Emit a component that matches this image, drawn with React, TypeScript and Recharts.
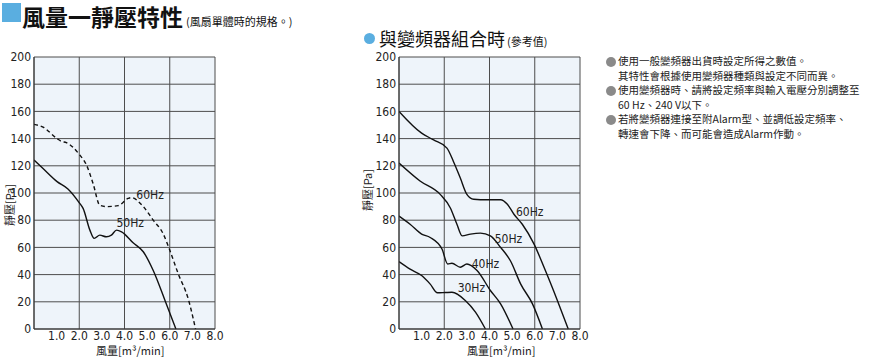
import React from "react";
import {
  LineChart,
  Line,
  XAxis,
  YAxis,
  CartesianGrid,
  ReferenceDot,
} from "recharts";

// fan only (left chart)
const fan60 = [
  { q: 0, p: 150.5 }, { q: 0.4, p: 148.4 }, { q: 1.02, p: 140 }, { q: 1.21, p: 138 },
  { q: 1.43, p: 137 }, { q: 2.02, p: 128 }, { q: 2.32, p: 120.6 }, { q: 2.61, p: 107 },
  { q: 2.91, p: 91 }, { q: 3.2, p: 90 }, { q: 3.72, p: 90.7 }, { q: 4.16, p: 96 },
  { q: 4.3, p: 96.6 }, { q: 4.83, p: 90 }, { q: 5.27, p: 80 }, { q: 5.71, p: 70 },
  { q: 6.0, p: 58 }, { q: 6.37, p: 40.8 }, { q: 6.82, p: 22 }, { q: 7.14, p: 0 },
];
const fan50 = [
  { q: 0, p: 124.3 }, { q: 0.4, p: 118 }, { q: 1.02, p: 108.4 }, { q: 1.5, p: 103 },
  { q: 2.02, p: 92.4 }, { q: 2.17, p: 88.7 }, { q: 2.47, p: 72.7 }, { q: 2.66, p: 66.6 },
  { q: 2.91, p: 69 }, { q: 3.2, p: 67.8 }, { q: 3.42, p: 69 }, { q: 3.65, p: 72.7 },
  { q: 3.87, p: 71.5 }, { q: 4.38, p: 63.4 }, { q: 4.83, p: 56.8 }, { q: 5.27, p: 43 },
  { q: 5.79, p: 21 }, { q: 6.27, p: 0 },
];

// with inverter (right chart)
const inv60 = [
  { q: 0, p: 160 }, { q: 1.0, p: 144 }, { q: 1.53, p: 139 }, { q: 2.12, p: 133 },
  { q: 2.41, p: 123 }, { q: 2.71, p: 111 }, { q: 3.0, p: 99 }, { q: 3.3, p: 95.4 },
  { q: 3.9, p: 95 }, { q: 4.49, p: 95 }, { q: 4.79, p: 91.7 }, { q: 5.08, p: 84.4 },
  { q: 5.45, p: 77 }, { q: 5.97, p: 62.4 }, { q: 6.41, p: 45.4 }, { q: 7.0, p: 21 },
  { q: 7.48, p: 0 },
];
const inv50 = [
  { q: 0, p: 122 }, { q: 0.93, p: 108.8 }, { q: 1.82, p: 99 }, { q: 2.27, p: 89 },
  { q: 2.56, p: 77 }, { q: 2.79, p: 68.5 }, { q: 3.16, p: 69.8 }, { q: 3.6, p: 70.5 },
  { q: 4.04, p: 68.5 }, { q: 4.49, p: 60 }, { q: 4.93, p: 50 }, { q: 5.38, p: 33 },
  { q: 5.9, p: 18.5 }, { q: 6.34, p: 0 },
];
const inv40 = [
  { q: 0, p: 83 }, { q: 0.49, p: 77 }, { q: 1.0, p: 69.8 }, { q: 1.38, p: 67.3 },
  { q: 1.9, p: 58.8 }, { q: 2.15, p: 47.8 }, { q: 2.34, p: 48.3 }, { q: 2.71, p: 45.4 },
  { q: 3.0, p: 47.8 }, { q: 3.45, p: 43 }, { q: 4.04, p: 28.3 }, { q: 4.49, p: 18.5 },
  { q: 5.04, p: 0 },
];
const inv30 = [
  { q: 0, p: 49.5 }, { q: 0.49, p: 44 }, { q: 1.0, p: 39.3 }, { q: 1.38, p: 33 },
  { q: 1.7, p: 26.6 }, { q: 2.04, p: 26.8 }, { q: 2.34, p: 27 }, { q: 2.93, p: 21 },
  { q: 3.38, p: 12.4 }, { q: 3.82, p: 0 },
];

const xTicks = [0, 1, 2, 3, 4, 5, 6, 7, 8];
const yTicks = [0, 20, 40, 60, 80, 100, 120, 140, 160, 180, 200];

const fanLabels = [
  { text: "60Hz", q: 5.13, p: 99 },
  { text: "50Hz", q: 4.25, p: 78.5 },
];
const invLabels = [
  { text: "60Hz", q: 5.78, p: 86.5 },
  { text: "50Hz", q: 4.84, p: 66.7 },
  { text: "40Hz", q: 3.82, p: 48.3 },
  { text: "30Hz", q: 3.2, p: 30 },
];

const notes = [
  ["使用一般變頻器出貨時設定所得之數值。", "其特性會根據使用變頻器種類與設定不同而異。"],
  ["使用變頻器時、請將設定頻率與輸入電壓分別調整至", "60 Hz、240 V以下。"],
  ["若將變頻器連接至附Alarm型、並調低設定頻率、", "轉速會下降、而可能會造成Alarm作動。"],
];

const numFont = '"Liberation Sans Narrow", "DejaVu Sans Condensed", Arial, sans-serif';
const cjkFont = '"Noto Sans CJK TC", "Noto Sans", sans-serif';
const ink = "#222";

type Series = { data: { q: number; p: number }[]; dashed?: boolean };

function Chart(props: {
  left: number;
  yAxisW: number;
  series: Series[];
  labels: { text: string; q: number; p: number }[];
  yTitleTop: number;
  yTitleLeft: number;
  xTitleLeft: number;
}) {
  const { left, yAxisW, series, labels } = props;
  const width = yAxisW + 181 + 15;
  return (
    <div style={{ position: "absolute", left, top: 0, width, height: 358 }}>
      <LineChart
        width={width}
        height={345}
        margin={{ top: 57, right: 15, left: 0, bottom: 0 }}
      >
        <CartesianGrid stroke="#4d4d4d" strokeWidth={1} fill="#eef4fa" />
        <XAxis
          type="number"
          dataKey="q"
          domain={[0, 8]}
          ticks={xTicks}
          allowDataOverflow
          height={16}
          tickSize={0}
          tickMargin={2}
          axisLine={{ stroke: "#333" }}
          tick={{ fill: ink, fontSize: 12, fontFamily: numFont }}
          tickFormatter={(v: number) => (v === 0 ? "" : v.toFixed(1))}
        />
        <YAxis
          type="number"
          dataKey="p"
          domain={[0, 200]}
          ticks={yTicks}
          width={yAxisW}
          tickSize={0}
          tickMargin={3}
          axisLine={{ stroke: "#333" }}
          tick={{ fill: ink, fontSize: 12, fontFamily: numFont }}
        />
        {series.map((s, i) => (
          <Line
            key={i}
            data={s.data}
            dataKey="p"
            type="monotone"
            stroke="#111"
            strokeWidth={1.4}
            strokeDasharray={s.dashed ? "4 3" : undefined}
            dot={false}
            isAnimationActive={false}
          />
        ))}
        {labels.map((l) => (
          <ReferenceDot
            key={l.text}
            x={l.q}
            y={l.p}
            r={0}
            stroke="none"
            label={{
              value: l.text,
              position: "center",
              fill: ink,
              fontSize: 12,
              fontFamily: numFont,
            }}
          />
        ))}
      </LineChart>
      <div
        style={{
          position: "absolute",
          left: props.yTitleLeft,
          top: props.yTitleTop,
          transform: "translate(-50%, -50%) rotate(-90deg)",
          fontSize: 11,
          fontFamily: cjkFont,
          color: ink,
          whiteSpace: "nowrap",
        }}
      >
        靜壓[Pa]
      </div>
      <div
        style={{
          position: "absolute",
          left: props.xTitleLeft,
          top: 342,
          fontSize: 11,
          fontFamily: cjkFont,
          color: ink,
          whiteSpace: "nowrap",
        }}
      >
        風量[m³/min]
      </div>
    </div>
  );
}

export default function App() {
  return (
    <div
      style={{
        position: "absolute",
        left: 0,
        top: 0,
        width: 892,
        height: 358,
        background: "#fff",
        overflow: "hidden",
        fontFamily: cjkFont,
        color: ink,
      }}
    >
      <div style={{ position: "absolute", left: 2, top: 3, width: 19, height: 19, background: "#5aaee0" }} />
      <div style={{ position: "absolute", left: 22, top: 2, fontSize: 23, fontWeight: 700, lineHeight: "28px", color: "#111", whiteSpace: "nowrap" }}>
        風量一靜壓特性
        <span style={{ fontSize: 11, fontWeight: 400, marginLeft: 3 }}>(風扇單體時的規格。)</span>
      </div>

      <div style={{ position: "absolute", left: 364, top: 33, width: 11, height: 11, borderRadius: "50%", background: "#5aaee0" }} />
      <div style={{ position: "absolute", left: 379, top: 25, fontSize: 18, lineHeight: "26px", color: "#111", whiteSpace: "nowrap" }}>
        與變頻器組合時
        <span style={{ fontSize: 11, marginLeft: 2 }}>(參考值)</span>
      </div>

      <Chart
        left={0}
        yAxisW={34}
        series={[{ data: fan60, dashed: true }, { data: fan50 }]}
        labels={fanLabels}
        yTitleLeft={9}
        yTitleTop={205}
        xTitleLeft={96}
      />
      <Chart
        left={350}
        yAxisW={49}
        series={[{ data: inv60 }, { data: inv50 }, { data: inv40 }, { data: inv30 }]}
        labels={invLabels}
        yTitleLeft={17}
        yTitleTop={190}
        xTitleLeft={117}
      />

      <div style={{ position: "absolute", left: 605, top: 54, fontSize: 10.5, lineHeight: "14.5px" }}>
        {notes.map((n, i) => (
          <div key={i} style={{ position: "relative", paddingLeft: 13 }}>
            <span
              style={{
                position: "absolute",
                left: 1,
                top: 2.5,
                width: 10,
                height: 10,
                borderRadius: "50%",
                background: "#8a8a8a",
              }}
            />
            {n.map((line, j) => (
              <div key={j} style={{ whiteSpace: "nowrap" }}>{line}</div>
            ))}
          </div>
        ))}
      </div>
    </div>
  );
}
